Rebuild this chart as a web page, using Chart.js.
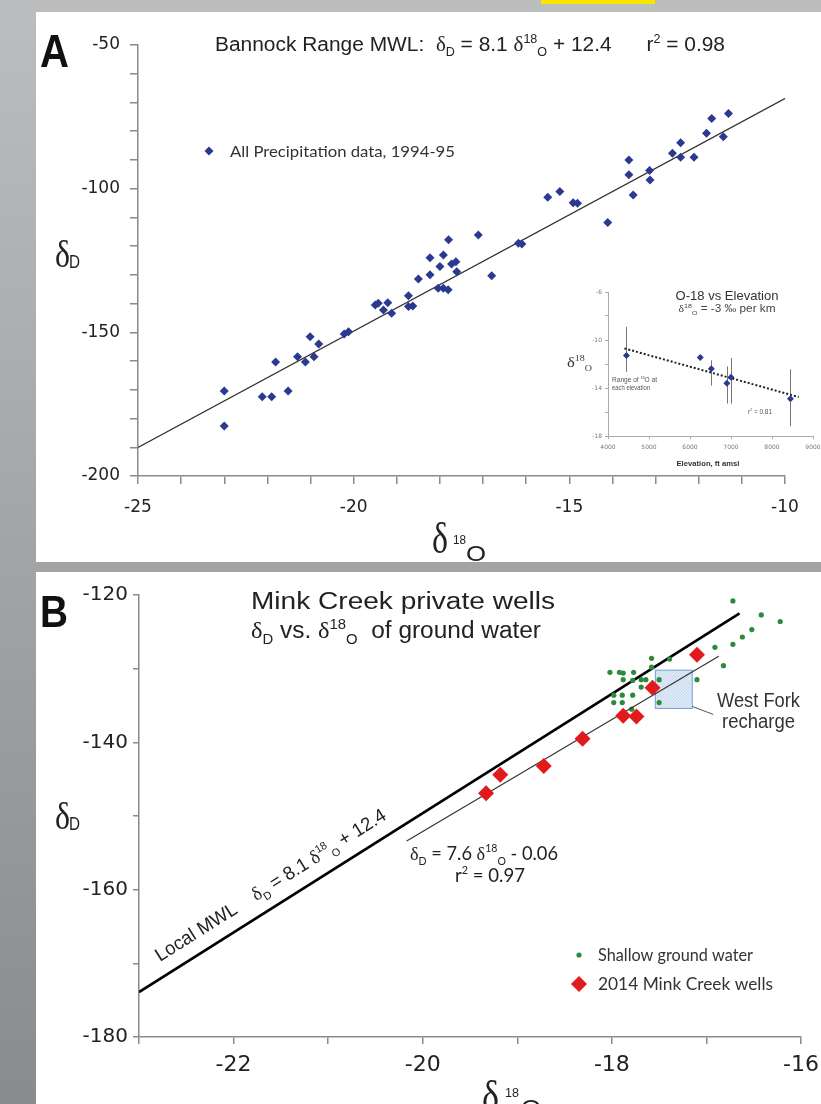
<!DOCTYPE html>
<html lang="en">
<head>
<meta charset="UTF-8">
<title>Bannock Range / Mink Creek isotopes</title>
<script src="https://cdn.jsdelivr.net/npm/chart.js"></script>
<style>
  body { margin: 0; width: 821px; height: 1104px; overflow: hidden; position: relative;
         background: linear-gradient(to bottom, #bcbdbf, #8a8b8d); }
  .panel { position: absolute; left: 36px; width: 785px; background: #fff; }
  canvas { position: absolute; }
</style>
</head>
<body>
<div style="position:absolute;left:541px;top:0;width:114px;height:4px;background:#f7e600"></div>
<div class="panel" style="top:12px;height:550px"></div>
<div class="panel" style="top:572px;height:532px"></div>
<canvas id="chartA" width="785" height="550" style="left:36px;top:12px"></canvas>
<canvas id="inset" width="261" height="190" style="left:560px;top:284px"></canvas>
<canvas id="chartB" width="785" height="532" style="left:36px;top:572px"></canvas>

<script>
// ---- Panel A: all precipitation 1994-95 ----
const precipO18 = [-23.0, -23.0, -22.12, -21.9, -21.52, -21.81, -21.3, -21.12, -20.92, -21.01,
  -20.81, -20.22, -20.12, -19.5, -19.43, -19.31, -19.21, -19.12, -18.73, -18.63,
  -18.73, -18.5, -18.23, -18.23, -18.0, -17.92, -17.8, -17.73, -17.63, -17.61,
  -18.04, -17.92, -17.81, -17.11, -16.8, -16.18, -16.1, -15.5, -15.22, -14.91,
  -14.81, -14.11, -13.62, -13.62, -13.52, -13.14, -13.13, -12.61, -12.42, -12.42,
  -12.11, -11.82, -11.7, -11.43, -11.31];
const precipD = [-170.4, -182.6, -172.4, -172.4, -170.4, -160.3, -158.5, -160.3, -158.5, -151.5,
  -154.1, -150.6, -149.8, -140.5, -139.9, -142.2, -139.7, -143.4, -141.0, -140.8,
  -137.3, -131.4, -130.0, -124.0, -127.1, -123.1, -117.8, -126.2, -125.4, -128.9,
  -134.7, -134.7, -135.2, -116.1, -130.3, -119.0, -119.3, -103.0, -101.0, -104.9,
  -105.1, -111.8, -90.0, -95.2, -102.2, -93.7, -97.0, -87.7, -84.0, -89.1,
  -89.1, -80.7, -75.6, -81.9, -73.8];
const mwlAx = [-25, -9.95];
const mwlAy = [-190.1, -68.2];

// ---- Inset: O-18 vs elevation ----
const insetElev = [4450, 6250, 6520, 6900, 7000, 8450];
const insetO18 = [-11.3, -11.45, -12.4, -13.6, -13.1, -14.9];
const insetLow = [-12.65, null, -13.8, -15.3, -15.3, -17.2];
const insetHigh = [-8.9, null, -11.7, -12.2, -11.5, -12.45];
const trendElev = [4400, 8650];
const trendO18 = [-10.7, -14.75];

// ---- Panel B: Mink Creek ----
const shallowO18 = [-16.72, -16.42, -16.22, -16.52, -16.62, -16.72, -16.91, -16.82, -17.39, -17.58,
  -17.58, -18.02, -17.92, -17.88, -17.77, -17.88, -17.78, -17.69, -17.64, -17.5,
  -17.69, -17.1, -17.98, -17.89, -17.78, -17.98, -17.89, -17.79, -17.5];
const shallowD = [-120.8, -122.7, -123.6, -124.7, -125.7, -126.7, -127.1, -129.6, -128.7, -128.6,
  -129.8, -130.5, -130.5, -130.6, -130.5, -131.5, -131.6, -131.5, -131.5, -131.5,
  -132.5, -131.5, -133.6, -133.6, -133.6, -134.6, -134.6, -135.5, -134.6];
const wellsO18 = [-19.33, -19.18, -18.72, -18.31, -17.88, -17.74, -17.57, -17.1];
const wellsD = [-146.9, -144.4, -143.2, -139.5, -136.4, -136.5, -132.6, -128.1];
const mwlBx = [-23, -16.65];
const mwlBy = [-173.9, -122.5];
const fitBx = [-20.17, -16.87];
const fitBy = [-153.4, -128.3];
const westForkBox = [-17.54, -17.15, -135.4, -130.2]; // x0, x1, y0, y1

const SANS = 'Liberation Sans', CAL = 'Lato', SERIF = 'Liberation Serif', TICK = 'DejaVu Sans';
const BLUE = '#2b3990', GREEN = '#2d8a3c', RED = '#e31a1c';

const pts = (xs, ys) => xs.map((x, i) => ({ x: x, y: ys[i] }));

// parts: [text, mode(0 normal,1 sub,2 sup), family]; width squeezes/stretches text horizontally
function rich(ctx, parts, x, y, size, fam, opt) {
  opt = opt || {};
  const font = p => (opt.bold ? 'bold ' : '') + (p[1] ? Math.round(size * 0.6) : size) + 'px "' + (p[2] || fam) + '"';
  let w = 0;
  parts.forEach(p => { ctx.font = font(p); w += ctx.measureText(p[0]).width; });
  const sx = opt.width ? opt.width / w : 1;
  ctx.save();
  ctx.translate(x, y);
  if (opt.rot) ctx.rotate(opt.rot);
  ctx.scale(sx, 1);
  let cx = opt.align === 'center' ? -w / 2 : opt.align === 'right' ? -w : 0;
  ctx.fillStyle = opt.color || '#222';
  ctx.textBaseline = 'alphabetic';
  ctx.textAlign = 'left';
  parts.forEach(p => {
    ctx.font = font(p);
    const dy = p[1] === 1 ? size * 0.25 : p[1] === 2 ? -size * 0.4 : 0;
    ctx.fillText(p[0], cx, dy);
    cx += ctx.measureText(p[0]).width;
  });
  ctx.restore();
}

function diamond(ctx, x, y, r, color) {
  ctx.fillStyle = color;
  ctx.beginPath();
  ctx.moveTo(x, y - r); ctx.lineTo(x + r, y); ctx.lineTo(x, y + r); ctx.lineTo(x - r, y);
  ctx.closePath(); ctx.fill();
}

function linAxis(min, max, step, show, o) {
  return {
    type: 'linear', min: min, max: max,
    afterFit: o.fit,
    border: { display: true, color: o.color, width: o.bw },
    grid: { drawOnChartArea: false, drawTicks: true, tickLength: o.tick, color: o.color, lineWidth: o.bw },
    ticks: { stepSize: step, autoSkip: false, maxRotation: 0, padding: o.pad, color: o.tc || '#222',
             font: { family: TICK, size: o.fs }, callback: v => show(v) ? String(v) : '' }
  };
}
const fitY = w => s => { s.width = w; s.paddingTop = 0; s.paddingBottom = 0; };
const fitX = h => s => { s.height = h; s.paddingLeft = 0; s.paddingRight = 0; };

const baseOpts = {
  responsive: false, animation: false, devicePixelRatio: 1,
  plugins: { legend: { display: false }, tooltip: { enabled: false } }
};

// ---------------- Panel A ----------------
new Chart(document.getElementById('chartA'), {
  type: 'scatter',
  data: { datasets: [
    { data: pts(precipO18, precipD), pointStyle: 'rectRot', pointRadius: 4.5, backgroundColor: BLUE, borderWidth: 0 },
    { data: pts(mwlAx, mwlAy), showLine: true, pointRadius: 0, borderColor: '#333', borderWidth: 1.2 }
  ] },
  options: Object.assign({}, baseOpts, {
    layout: { padding: { top: 33, right: 36, left: 0, bottom: 0 } },
    scales: {
      x: linAxis(-25, -10, 1, v => v % 5 === 0, { fit: fitX(86), color: '#8a8a8a', bw: 1.5, tick: 8, pad: 13, fs: 17 }),
      y: linAxis(-200, -50, 10, v => v % 50 === 0, { fit: fitY(102), color: '#8a8a8a', bw: 1.5, tick: 8, pad: 10, fs: 17 })
    }
  }),
  plugins: [{
    id: 'textA',
    afterDraw(chart) {
      const ctx = chart.ctx;
      ctx.save();
      ctx.translate(-36, -12);
      rich(ctx, [['A']], 40, 67, 46, SANS, { width: 29, bold: true, color: '#111' });
      rich(ctx, [['Bannock Range MWL:  '], ['δ', 0, SERIF], ['D', 1], [' = 8.1 '], ['δ', 0, SERIF], ['18', 2], ['O', 1],
                 [' + 12.4      r'], ['2', 2], [' = 0.98']], 215, 51, 20, SANS, { width: 510 });
      diamond(ctx, 209, 151, 4.5, BLUE);
      rich(ctx, [['All Precipitation data, 1994-95']], 230, 157, 16, CAL, { width: 225, color: '#333' });
      rich(ctx, [['δ']], 55, 267, 38, SERIF, { width: 15 });
      rich(ctx, [['D']], 69, 268, 18, SANS, { width: 11 });
      rich(ctx, [['δ']], 432, 553, 44, SERIF, { width: 16 });
      rich(ctx, [['18']], 453, 544, 13, SANS, { width: 13 });
      rich(ctx, [['O']], 466, 561, 22, SANS, { width: 20 });
      ctx.restore();
    }
  }]
});

// ---------------- Inset ----------------
new Chart(document.getElementById('inset'), {
  type: 'scatter',
  data: { datasets: [
    { data: pts(insetElev, insetO18), pointStyle: 'rectRot', pointRadius: 3.5, backgroundColor: BLUE, borderWidth: 0 },
    { data: pts(trendElev, trendO18), showLine: true, pointRadius: 0, borderColor: '#222', borderWidth: 2, borderDash: [2, 2] }
  ] },
  options: Object.assign({}, baseOpts, {
    layout: { padding: { top: 8, right: 8, left: 0, bottom: 0 } },
    scales: {
      x: linAxis(4000, 9000, 1000, () => true, { fit: fitX(38), color: '#aaa', bw: 1, tick: 3, pad: 5, fs: 6, tc: '#777' }),
      y: linAxis(-18, -6, 2, v => (v + 18) % 4 === 0, { fit: fitY(48), color: '#aaa', bw: 1, tick: 3, pad: 3, fs: 6, tc: '#777' })
    }
  }),
  plugins: [{
    id: 'errorBars',
    beforeDatasetsDraw(chart) {
      const ctx = chart.ctx, xs = chart.scales.x, ys = chart.scales.y;
      ctx.save();
      ctx.strokeStyle = '#777';
      ctx.lineWidth = 1;
      insetElev.forEach((e, i) => {
        if (insetHigh[i] == null) return;
        const px = Math.round(xs.getPixelForValue(e)) + 0.5;
        ctx.beginPath();
        ctx.moveTo(px, ys.getPixelForValue(insetLow[i]));
        ctx.lineTo(px, ys.getPixelForValue(insetHigh[i]));
        ctx.stroke();
      });
      ctx.restore();
    },
    afterDraw(chart) {
      const ctx = chart.ctx;
      ctx.save();
      ctx.translate(-560, -284);
      rich(ctx, [['O-18 vs Elevation']], 727, 300, 13, SANS, { width: 103, align: 'center', color: '#333' });
      rich(ctx, [['δ', 0, SERIF], ['18', 2], ['O', 1], [' = -3 ‰ per km']], 727, 312, 10, SANS, { width: 97, align: 'center', color: '#444' });
      rich(ctx, [['δ', 0, SERIF], ['18', 2], ['O', 1]], 567, 367, 15, SERIF, { width: 25, color: '#333' });
      rich(ctx, [['Range of '], ['18', 2], ['O at']], 612, 382, 7, SANS, { width: 45, color: '#555' });
      rich(ctx, [['each elevation']], 612, 390, 7, SANS, { width: 38, color: '#555' });
      rich(ctx, [['r'], ['2', 2], [' = 0.81']], 748, 414, 7, SANS, { width: 24, color: '#555' });
      rich(ctx, [['Elevation, ft amsl']], 708, 466, 8, SANS, { width: 63, align: 'center', bold: true, color: '#333' });
      ctx.restore();
    }
  }]
});

// ---------------- Panel B ----------------
new Chart(document.getElementById('chartB'), {
  type: 'scatter',
  data: { datasets: [
    { data: pts(wellsO18, wellsD), pointStyle: 'rectRot', pointRadius: 8, backgroundColor: RED, borderWidth: 0 },
    { data: pts(fitBx, fitBy), showLine: true, pointRadius: 0, borderColor: '#333', borderWidth: 1.2 },
    { data: pts(shallowO18, shallowD), pointRadius: 2.6, backgroundColor: GREEN, borderWidth: 0 },
    { data: pts(mwlBx, mwlBy), showLine: true, pointRadius: 0, borderColor: '#000', borderWidth: 2.6 }
  ] },
  options: Object.assign({}, baseOpts, {
    layout: { padding: { top: 23, right: 20, left: 0, bottom: 0 } },
    scales: {
      x: linAxis(-23, -16, 1, v => v % 2 === 0, { fit: fitX(67), color: '#8a8a8a', bw: 1.5, tick: 7, pad: 8, fs: 22 }),
      y: linAxis(-180, -120, 10, v => v % 20 === 0, { fit: fitY(103), color: '#8a8a8a', bw: 1.5, tick: 6, pad: 5, fs: 20 })
    }
  }),
  plugins: [{
    id: 'textB',
    beforeDatasetsDraw(chart) {
      const ctx = chart.ctx, xs = chart.scales.x, ys = chart.scales.y;
      const x0 = xs.getPixelForValue(westForkBox[0]), x1 = xs.getPixelForValue(westForkBox[1]);
      const y0 = ys.getPixelForValue(westForkBox[3]), y1 = ys.getPixelForValue(westForkBox[2]);
      ctx.save();
      ctx.fillStyle = '#e2ecf7';
      ctx.fillRect(x0, y0, x1 - x0, y1 - y0);
      ctx.beginPath(); ctx.rect(x0, y0, x1 - x0, y1 - y0); ctx.clip();
      ctx.strokeStyle = '#b9cde6'; ctx.lineWidth = 0.8;
      for (let d = -60; d < 80; d += 3) {
        ctx.beginPath(); ctx.moveTo(x0 + d, y1); ctx.lineTo(x0 + d + (y1 - y0), y0); ctx.stroke();
      }
      ctx.restore();
      ctx.save();
      ctx.strokeStyle = '#6fa0d8'; ctx.lineWidth = 1;
      ctx.strokeRect(x0, y0, x1 - x0, y1 - y0);
      ctx.strokeStyle = '#555';
      ctx.beginPath(); ctx.moveTo(x1, y1 - 2); ctx.lineTo(x1 + 21, y1 + 6); ctx.stroke();
      ctx.restore();
    },
    afterDraw(chart) {
      const ctx = chart.ctx, xs = chart.scales.x, ys = chart.scales.y;
      const ang = Math.atan2(ys.getPixelForValue(mwlBy[1]) - ys.getPixelForValue(mwlBy[0]),
                             xs.getPixelForValue(mwlBx[1]) - xs.getPixelForValue(mwlBx[0]));
      ctx.save();
      ctx.translate(-36, -572);
      rich(ctx, [['B']], 40, 627, 44, SANS, { width: 28, bold: true, color: '#111' });
      rich(ctx, [['Mink Creek private wells']], 251, 609, 23, SANS, { width: 304 });
      rich(ctx, [['δ', 0, SERIF], ['D', 1], [' vs. '], ['δ', 0, SERIF], ['18', 2], ['O', 1], ['  of ground water']], 251, 638, 23, SANS, { width: 290 });
      rich(ctx, [['West Fork']], 717, 707, 20, SANS, { width: 83, color: '#333' });
      rich(ctx, [['recharge']], 722, 728, 20, SANS, { width: 73, color: '#333' });
      rich(ctx, [['δ', 0, SERIF], ['D', 1], [' = 7.6 '], ['δ', 0, SERIF], ['18', 2], ['O', 1], [' - 0.06']], 410, 860, 19, CAL, { width: 148 });
      rich(ctx, [['r'], ['2', 2], [' = 0.97']], 455, 882, 19, CAL, { width: 70 });
      rich(ctx, [['Local MWL    '], ['δ', 0, SERIF], ['D', 1], [' = 8.1 '], ['δ', 0, SERIF], ['18', 2], ['O', 1], [' + 12.4']],
           160, 962, 19, SANS, { width: 269, rot: ang });
      ctx.beginPath(); ctx.arc(579, 955, 2.6, 0, Math.PI * 2); ctx.fillStyle = GREEN; ctx.fill();
      rich(ctx, [['Shallow ground water']], 598, 961, 17, CAL, { width: 155, color: '#333' });
      diamond(ctx, 579, 984, 8, RED);
      rich(ctx, [['2014 Mink Creek wells']], 598, 990, 17, CAL, { width: 175, color: '#333' });
      rich(ctx, [['δ']], 55, 829, 38, SERIF, { width: 15 });
      rich(ctx, [['D']], 69, 830, 18, SANS, { width: 11 });
      rich(ctx, [['δ']], 482, 1111, 44, SERIF, { width: 17 });
      rich(ctx, [['18']], 505, 1097, 13, SANS, { width: 14 });
      rich(ctx, [['O']], 521, 1115, 22, SANS, { width: 20 });
      ctx.restore();
    }
  }]
});
</script>
</body>
</html>
